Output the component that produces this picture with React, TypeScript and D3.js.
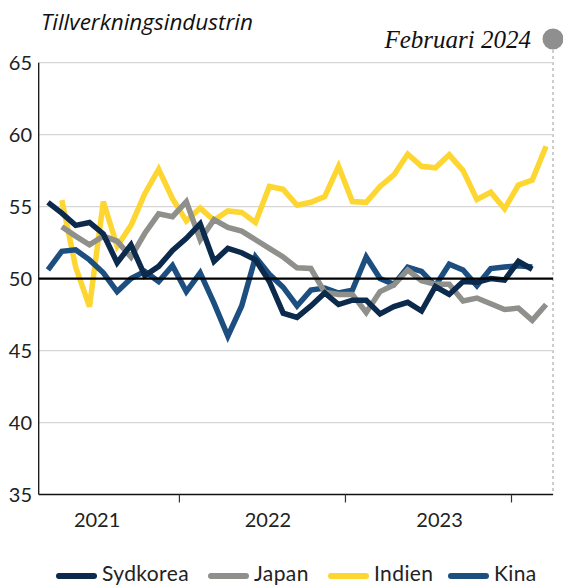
import React from "react";
import * as d3 from "d3";

// Monthly PMI, manufacturing. Month index 0 = March 2021.
const sydkorea = [55.3, 54.55, 53.7, 53.9, 53.1, 51.1, 52.35, 50.2, 50.85, 51.95, 52.8, 53.8, 51.2, 52.1, 51.8, 51.3, 49.8, 47.6, 47.3, 48.1, 49.0, 48.2, 48.5, 48.5, 47.55, 48.05, 48.35, 47.75, 49.45, 48.9, 49.8, 49.75, 50.0, 49.9, 51.2, 50.65];
const japan = [53.6, 52.95, 52.35, 52.95, 52.6, 51.5, 53.15, 54.5, 54.3, 55.35, 52.7, 54.1, 53.55, 53.3, 52.7, 52.1, 51.5, 50.75, 50.7, 49.05, 48.9, 48.9, 47.65, 49.1, 49.55, 50.6, 49.85, 49.6, 49.6, 48.45, 48.65, 48.25, 47.85, 47.95, 47.1, 48.2];
const indien = [55.45, 50.8, 48.05, 55.35, 52.25, 53.7, 55.9, 57.6, 55.55, 54.0, 54.9, 54.05, 54.7, 54.6, 53.9, 56.4, 56.2, 55.1, 55.3, 55.7, 57.8, 55.35, 55.3, 56.4, 57.2, 58.65, 57.8, 57.7, 58.6, 57.5, 55.5, 56.0, 54.85, 56.5, 56.85, 59.2];
const kina = [50.6, 51.9, 52.0, 51.3, 50.4, 49.1, 50.0, 50.5, 49.8, 50.9, 49.1, 50.4, 48.3, 46.0, 48.1, 51.5, 50.3, 49.4, 48.1, 49.2, 49.35, 49.0, 49.2, 51.5, 50.0, 49.6, 50.8, 50.5, 49.5, 51.0, 50.6, 49.5, 50.7, 50.8, 50.9, 50.8];

// first month of each series, as month index from March 2021
const seriesStart = { sydkorea: 0, japan: 1, indien: 1, kina: 0 };

const yTicks = [35, 40, 45, 50, 55, 60, 65];
const years = ["2021", "2022", "2023"];
// year-boundary ticks (between December and January), month index
const yearBoundaries = [9.5, 21.5, 33.5];
// where each year label sits, month index
const yearLabelAt = [3.55, 15.9, 28.3];

const title = "Tillverkningsindustrin";
const dateLabel = "Februari 2024";

const COLORS = {
  sydkorea: "#0b2a4c",
  japan: "#8f908b",
  indien: "#fed631",
  kina: "#1d4e80",
};

const legendItems = [
  { key: "sydkorea", label: "Sydkorea" },
  { key: "japan", label: "Japan" },
  { key: "indien", label: "Indien" },
  { key: "kina", label: "Kina" },
];
const legendX = [59, 211, 331, 451];

const W = 563;
const H = 586;
const FONT = "Lato, 'Open Sans', sans-serif";

export default function App() {
  const left = 38.7;
  const right = 553;
  const top = 62.7;
  const bottom = 494.5;

  const x = d3.scaleLinear().domain([-0.67, 36.5]).range([left, right]);
  const y = d3.scaleLinear().domain([35, 65]).range([bottom, top]);

  const line = d3
    .line<[number, number]>()
    .x((d) => x(d[0]))
    .y((d) => y(d[1]))
    .curve(d3.curveLinear);

  const mk = (vals: number[], start: number) =>
    vals.map((v, i) => [start + i, v] as [number, number]);

  const drawOrder: { key: keyof typeof COLORS; vals: number[] }[] = [
    { key: "indien", vals: indien },
    { key: "kina", vals: kina },
    { key: "japan", vals: japan },
    { key: "sydkorea", vals: sydkorea },
  ];

  return (
    <svg
      width={W}
      height={H}
      viewBox={`0 0 ${W} ${H}`}
      style={{ position: "absolute", left: 0, top: 0, background: "#fff" }}
    >
      {/* title */}
      <text x={41} y={30} fontFamily="'Open Sans', sans-serif" fontStyle="italic" fontSize={22.5} fill="#111">
        {title}
      </text>
      <text
        x={531}
        y={48}
        textAnchor="end"
        fontFamily="'Liberation Serif', 'DejaVu Serif', serif"
        fontStyle="italic"
        fontSize={25}
        fill="#111"
      >
        {dateLabel}
      </text>
      <circle cx={553} cy={39} r={10.5} fill="#8f8f8f" />
      <line
        x1={right}
        x2={right}
        y1={50}
        y2={bottom}
        stroke="#9a9a9a"
        strokeWidth={1}
        strokeDasharray="3,3"
      />

      {/* gridlines */}
      {yTicks
        .filter((t) => t !== 35 && t !== 50)
        .map((t) => (
          <line key={t} x1={left} x2={right} y1={y(t)} y2={y(t)} stroke="#d6d6d6" strokeWidth={1.2} />
        ))}

      {/* y labels */}
      {yTicks.map((t) => (
        <text
          key={t}
          x={32}
          y={y(t) + 7}
          textAnchor="end"
          fontFamily={FONT}
          fontSize={20}
          fill="#222"
        >
          {t}
        </text>
      ))}

      {/* series */}
      {drawOrder.map((s) => (
        <path
          key={s.key}
          d={line(mk(s.vals, seriesStart[s.key])) || ""}
          fill="none"
          stroke={COLORS[s.key]}
          strokeWidth={5.5}
          strokeLinejoin="miter"
          strokeLinecap="butt"
        />
      ))}

      {/* 50 line */}
      <line x1={left} x2={right} y1={y(50)} y2={y(50)} stroke="#000" strokeWidth={2.2} />

      {/* axes */}
      <line x1={left} x2={left} y1={top} y2={bottom} stroke="#111" strokeWidth={1.3} />
      <line x1={left} x2={right} y1={bottom} y2={bottom} stroke="#111" strokeWidth={1.3} />
      {yearBoundaries.map((b, k) => (
        <line
          key={"t" + k}
          x1={x(b)}
          x2={x(b)}
          y1={bottom}
          y2={bottom + 8}
          stroke="#333"
          strokeWidth={1.2}
        />
      ))}
      {years.map((yr, k) => (
        <text
          key={yr}
          x={x(yearLabelAt[k])}
          y={527}
          textAnchor="middle"
          fontFamily={FONT}
          fontSize={20}
          fill="#222"
        >
          {yr}
        </text>
      ))}

      {/* legend */}
      {legendItems.map((it, k) => (
        <g key={it.key}>
          <line
            x1={legendX[k]}
            x2={legendX[k] + 35}
            y1={576}
            y2={576}
            stroke={COLORS[it.key as keyof typeof COLORS]}
            strokeWidth={6}
            strokeLinecap="round"
          />
          <text
            x={legendX[k] + 43}
            y={581}
            fontFamily={FONT}
            fontSize={21}
            letterSpacing={0.4}
            fill="#222"
          >
            {it.label}
          </text>
        </g>
      ))}
    </svg>
  );
}
